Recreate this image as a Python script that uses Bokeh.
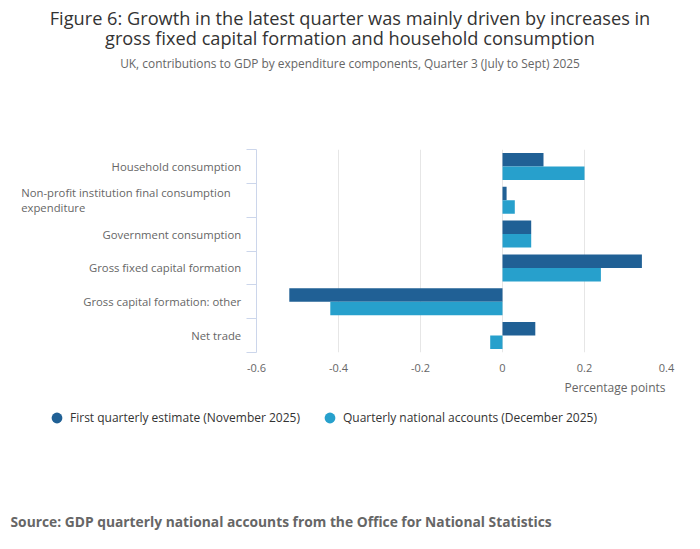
from bokeh.plotting import figure
from bokeh.layouts import column, row
from bokeh.models import (ColumnDataSource, Legend, LegendItem, Range1d, Title,
                          FixedTicker, Label)
from bokeh.embed import file_html
from bokeh.resources import INLINE

# ---- data ----
title_lines = [
    "Figure 6: Growth in the latest quarter was mainly driven by increases in",
    "gross fixed capital formation and household consumption",
]
subtitle = "UK, contributions to GDP by expenditure components, Quarter 3 (July to Sept) 2025"
categories = [
    "Household consumption",
    "Non-profit institution final consumption\nexpenditure",
    "Government consumption",
    "Gross fixed capital formation",
    "Gross capital formation: other",
    "Net trade",
]
series_names = [
    "First quarterly estimate (November 2025)",
    "Quarterly national accounts (December 2025)",
]
first_estimate = [0.10, 0.01, 0.07, 0.34, -0.52, 0.08]
quarterly_accounts = [0.20, 0.03, 0.07, 0.24, -0.42, -0.03]
x_ticks = [-0.6, -0.4, -0.2, 0, 0.2, 0.4]
x_tick_labels = ["-0.6", "-0.4", "-0.2", "0", "0.2", "0.4"]
x_axis_title = "Percentage points"
source_text = "Source: GDP quarterly national accounts from the Office for National Statistics"
colors = ["#206095", "#27a0cc"]

FONT = "Open Sans"
n = len(categories)
centers = [n - i - 0.5 for i in range(n)]
boundaries = list(range(n + 1))
y_range = Range1d(0, n)

W = 684
HEAD_H = 149
MID_H = 258
FOOT_H = 533 - HEAD_H - MID_H
LAB_W = 246
BOTTOM = 55


def blank(width, height, **kw):
    f = figure(width=width, height=height, output_backend="svg", toolbar_location=None,
               x_axis_type=None, y_axis_type=None, min_border=0,
               min_border_left=0, min_border_right=0, min_border_top=0,
               min_border_bottom=0, **kw)
    f.outline_line_color = None
    f.background_fill_color = "white"
    f.border_fill_color = "white"
    return f


# ---- header ----
head = blank(W, HEAD_H, x_range=Range1d(0, 1), y_range=Range1d(0, 1))
for txt, base, size, col in [(title_lines[0], 17.5, "18.2px", "#333333"),
                             (title_lines[1], 37.8, "18.2px", "#333333"),
                             (subtitle, 62, "11.9px", "#666666")]:
    head.add_layout(Label(x=349.5, y=HEAD_H - base, x_units="screen", y_units="screen",
                          text=txt, text_align="center", text_baseline="alphabetic",
                          text_font=FONT, text_font_size=size, text_color=col))

# ---- category labels ----
labs = blank(LAB_W, MID_H, x_range=Range1d(0, 1), y_range=y_range)
labs.min_border_bottom = BOTTOM
for cat, yc in zip(categories, centers):
    wrapped = "\n" in cat
    labs.add_layout(Label(x=20.7 if wrapped else 240.7, y=yc, x_units="screen", y_units="data",
                          text=cat, text_align="left" if wrapped else "right",
                          text_baseline="middle", text_line_height=0.98,
                          text_font=FONT, text_font_size="11.3px", text_color="#666666"))

# ---- main chart ----
p = figure(
    width=W - LAB_W, height=MID_H, output_backend="svg", toolbar_location=None,
    x_range=Range1d(x_ticks[0], x_ticks[-1]), y_range=y_range,
    min_border_left=10, min_border_right=18, min_border_top=0, min_border_bottom=BOTTOM,
)
p.outline_line_color = None
p.background_fill_color = "white"
p.border_fill_color = "white"

src = ColumnDataSource(dict(
    y1=[c + 0.2 for c in centers],
    y2=[c - 0.2 for c in centers],
    a=first_estimate,
    b=quarterly_accounts,
))
p.hbar(y="y1", left=0, right="a", height=0.4, source=src,
       fill_color=colors[0], line_color=None)
p.hbar(y="y2", left=0, right="b", height=0.4, source=src,
       fill_color=colors[1], line_color=None)

p.xaxis.ticker = x_ticks
p.xaxis.major_label_overrides = dict(zip(x_ticks, x_tick_labels))
p.xaxis.axis_line_color = None
p.xaxis.major_tick_line_color = None
p.xaxis.minor_tick_line_color = None
p.xaxis.major_tick_out = 0
p.xaxis.major_tick_in = 0
p.xaxis.major_label_standoff = 11
p.xaxis.major_label_text_font = FONT
p.xaxis.major_label_text_font_size = "11px"
p.xaxis.major_label_text_color = "#666666"
p.xgrid.grid_line_color = "#e6e6e6"
p.ygrid.grid_line_color = None

p.yaxis.ticker = FixedTicker(ticks=boundaries)
p.yaxis.major_label_overrides = {b: "" for b in boundaries}
p.yaxis.axis_line_color = "#ccd6eb"
p.yaxis.major_tick_line_color = "#ccd6eb"
p.yaxis.major_tick_out = 10
p.yaxis.major_tick_in = 0
p.yaxis.major_label_standoff = 0
p.yaxis.minor_tick_line_color = None

p.add_layout(Title(text=x_axis_title, align="right", offset=1, standoff=8,
                   vertical_align="top",
                   text_font=FONT, text_font_size="12px", text_font_style="normal",
                   text_color="#666666"), "below")

# ---- footer: legend and source ----
foot = blank(W, FOOT_H, x_range=Range1d(0, 1), y_range=Range1d(0, 1))
nan = float("nan")
r1 = foot.scatter(x=[nan], y=[nan], marker="circle", fill_color=colors[0], line_color=None)
r2 = foot.scatter(x=[nan], y=[nan], marker="circle", fill_color=colors[1], line_color=None)
legend = Legend(
    items=[LegendItem(label=series_names[0], renderers=[r1]),
           LegendItem(label=series_names[1], renderers=[r2])],
    orientation="horizontal", location=(43, FOOT_H - (417 - HEAD_H - MID_H) - 13.5),
    glyph_width=27, glyph_height=27, label_standoff=0, spacing=16,
    padding=0, margin=0, border_line_color=None, background_fill_alpha=0,
    label_text_font=FONT, label_text_font_size="12px", label_text_color="#333333",
)
foot.add_layout(legend)
foot.add_layout(Label(x=10, y=FOOT_H - (521 - HEAD_H - MID_H), x_units="screen", y_units="screen",
                      text=source_text, text_align="left", text_baseline="middle",
                      text_font=FONT, text_font_size="13.8px", text_font_style="bold",
                      text_color="#666666"))

layout = column(head, row(labs, p), foot)
open("out.html", "w").write(file_html(layout, INLINE))
